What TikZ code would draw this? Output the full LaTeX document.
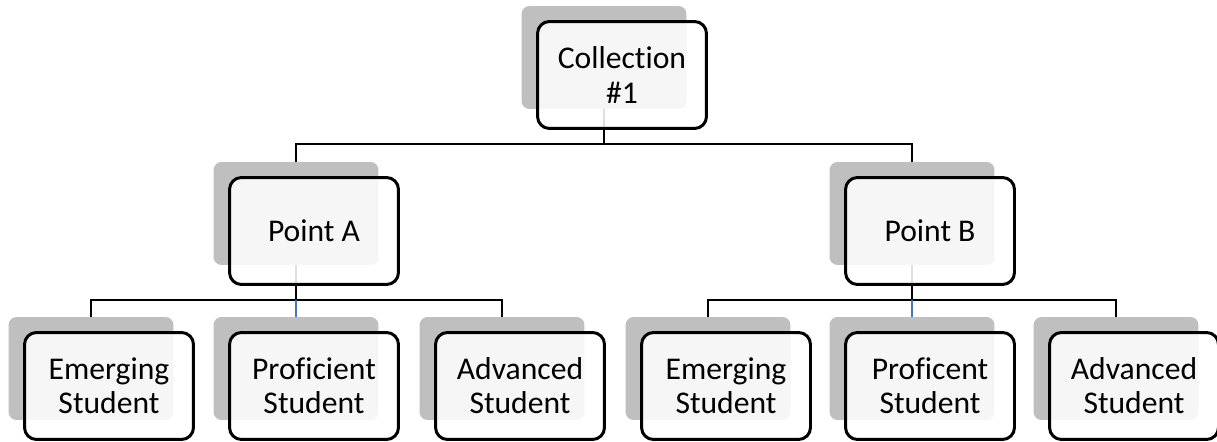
\documentclass[tikz,border=0pt]{standalone}
\usepackage{fontspec}
\setmainfont{Carlito}[Ligatures=NoCommon]
\usetikzlibrary{calc}
\definecolor{stubblue}{RGB}{68,114,196}
\tikzset{
  backcard/.style={rectangle, rounded corners=0.16cm, fill=black!25, minimum width=3.3cm, minimum height=2.06cm, inner sep=0pt},
  frontcard/.style={rectangle, rounded corners=0.24cm, draw=black, line width=1.7pt, fill=white, fill opacity=0.87, text opacity=1, draw opacity=1, minimum width=3.38cm, minimum height=2.14cm, align=center, font=\fontsize{18}{19.5}\selectfont, inner sep=2pt},
  link/.style={line width=1.2pt, black}
}
\def\backcard(#1)(#2){\node[backcard] (#1S) at (#2) {};}
\def\frontcard(#1)#2{\node[frontcard] (#1) at ($(#1S)+(18,17.5)$) {#2};}

\begin{document}
\begin{tikzpicture}[x=0.02cm, y=-0.02cm]
		\useasboundingbox (0,0) rectangle (1217,442);
		
		%%%%% back cards %%%%%
		\backcard(coll)(604, 57.5)
		\backcard(pta)(296, 213.5)
		\backcard(ptb)(912, 213.5)
		
		\backcard(emA)(91, 368.5)
		\backcard(prA)(296, 368.5)
		\backcard(adA)(502, 368.5)
		\backcard(emB)(708, 368.5)
		\backcard(prB)(912, 368.5)
		\backcard(adB)(1116, 368.5)
		
		%%%%% connectors %%%%%
		\coordinate (bar1) at (0, 144);
		\coordinate (bar2) at (0, 300);
		
		\draw[link] (collS.south) -- (collS.south |- bar1);
		\draw[link] (ptaS.north) |- (ptbS.north |- bar1) -- (ptbS.north);
		
		\draw[link] (ptaS.south) -- (ptaS.south |- bar2);
		\draw[link] (emAS.north) |- (adAS.north |- bar2) -- (adAS.north);
		\draw[link, stubblue] (prAS.north |- bar2) -- (prAS.north);
		
		\draw[link] (ptbS.south) -- (ptbS.south |- bar2);
		\draw[link] (emBS.north) |- (adBS.north |- bar2) -- (adBS.north);
		\draw[link, stubblue] (prBS.north |- bar2) -- (prBS.north);
		
		%%%%% front cards %%%%%
		\frontcard(coll){Collection\\\#1}
		\frontcard(pta){Point A}
		\frontcard(ptb){Point B}
		
		\frontcard(emA){Emerging\\Student}
		\frontcard(prA){Proficient\\Student}
		\frontcard(adA){Advanced\\Student}
		\frontcard(emB){Emerging\\Student}
		\frontcard(prB){Proficent\\Student}
		\frontcard(adB){Advanced\\Student}
		
	\end{tikzpicture}
\end{document}
